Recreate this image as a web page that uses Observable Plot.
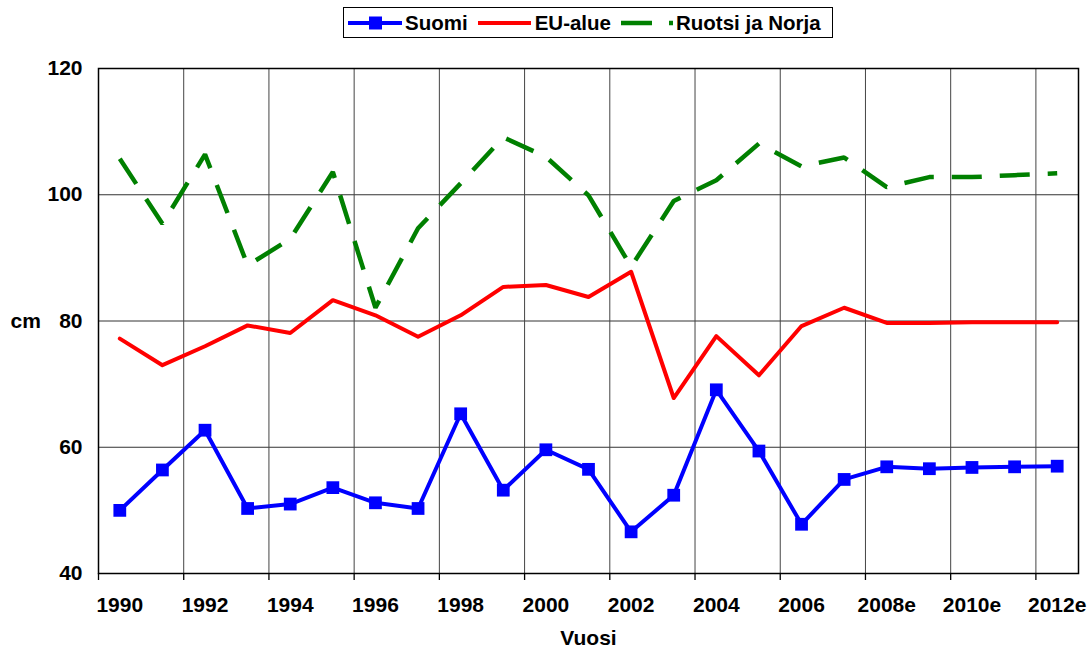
<!DOCTYPE html>
<html><head><meta charset="utf-8">
<script src="https://cdn.jsdelivr.net/npm/d3@7"></script>
<script src="https://cdn.jsdelivr.net/npm/@observablehq/plot@0.6"></script>
<style>
body{margin:0;background:#fff;font-family:"Liberation Sans",Arial,sans-serif;}
#legend{position:relative;height:45px;width:1090px;}
#legend .box{position:absolute;left:343px;top:7px;width:488px;height:29px;border:1px solid #000;display:flex;align-items:center;font-weight:bold;font-size:20.5px;color:#000;box-sizing:content-box;}
#legend .item{display:flex;align-items:center;}
#legend svg{display:block;}
</style>
</head><body>
<div id="legend"></div>
<div id="chart"></div>
<script>
const years = ["1990","1991","1992","1993","1994","1995","1996","1997","1998","1999","2000","2001","2002","2003","2004","2005","2006","2007","2008e","2009e","2010e","2011e","2012e"];
const suomi = [50.0, 56.4, 62.7, 50.3, 51.0, 53.6, 51.2, 50.3, 65.3, 53.2, 59.6, 56.5, 46.6, 52.4, 69.1, 59.4, 47.8, 54.9, 56.9, 56.6, 56.8, 56.9, 57.0];
const euAlue = [77.2, 73.0, 76.0, 79.3, 78.1, 83.3, 80.9, 77.5, 80.9, 85.4, 85.7, 83.8, 87.8, 67.8, 77.6, 71.4, 79.2, 82.1, 79.7, 79.7, 79.8, 79.8, 79.8];
const ruotsiNorja = [105.7, 95.4, 106.4, 88.8, 93.0, 103.6, 82.1, 94.7, 101.8, 109.1, 106.0, 99.9, 88.6, 99.0, 102.3, 108.1, 104.5, 105.9, 101.2, 102.8, 102.8, 103.1, 103.4];
const yTicks = [40, 60, 80, 100, 120];
const seriesNames = ["Suomi", "EU-alue", "Ruotsi ja Norja"];
const colors = ["#0000ff", "#ff0000", "#008000"];

const labelYears = years.filter((d, i) => i % 2 === 0);
const rows = vals => years.map((year, i) => ({year, value: vals[i]}));

const W = 1090, H = 606, mL = 98, mR = 12, mT = 23, mB = 78;
const bw = (W - mL - mR) / years.length;
const FS = 21;

// Legend
const box = document.createElement("div");
box.className = "box";
box.innerHTML = `
<div class="item" style="margin-left:4px">
  <svg width="54" height="20"><line x1="0" y1="10" x2="54" y2="10" stroke="${colors[0]}" stroke-width="4"/><rect x="21" y="3.5" width="13" height="13" fill="${colors[0]}"/></svg>
  <span style="margin-left:3px">${seriesNames[0]}</span></div>
<div class="item" style="margin-left:10px">
  <svg width="53" height="20"><line x1="0" y1="10" x2="53" y2="10" stroke="${colors[1]}" stroke-width="4"/></svg>
  <span style="margin-left:4px">${seriesNames[1]}</span></div>
<div class="item" style="margin-left:10px">
  <svg width="52" height="20"><line x1="0" y1="10" x2="52" y2="10" stroke="${colors[2]}" stroke-width="4.5" stroke-dasharray="31,17"/></svg>
  <span style="margin-left:3px">${seriesNames[2]}</span></div>`;
document.getElementById("legend").appendChild(box);

const chart = Plot.plot({
  width: W, height: H,
  marginLeft: mL, marginRight: mR, marginTop: mT, marginBottom: mB,
  style: {fontFamily: "Liberation Sans, Arial, sans-serif", fontSize: FS + "px", fontWeight: "bold", color: "#000", background: "#fff"},
  x: {type: "band", domain: years, padding: 0, round: false, axis: null},
  y: {domain: [40, 120], axis: null},
  marks: [
    Plot.ruleY([60, 80, 100], {stroke: "#333", strokeWidth: 1}),
    Plot.ruleX(labelYears.slice(1), {dx: -bw / 2, stroke: "#444", strokeWidth: 1}),
    Plot.ruleX(labelYears, {dx: -bw / 2, y1: 40, y2: 40, insetBottom: -7, stroke: "#000", strokeWidth: 1.3}),
    Plot.ruleY(yTicks, {x1: years[0], x2: years[0], dx: -bw / 2, insetLeft: -7, stroke: "#000", strokeWidth: 1.3}),
    Plot.frame({stroke: "#000", strokeWidth: 1.5}),
    Plot.axisY(yTicks, {tickSize: 0, tickPadding: 16, label: null, fontWeight: "bold", fontSize: FS}),
    Plot.axisX(labelYears, {tickSize: 0, tickPadding: 24, label: null, fontWeight: "bold", fontSize: FS}),
    Plot.text([{t: "cm", v: 80}], {text: "t", y: "v", frameAnchor: "left", textAnchor: "start", dx: -88, fontWeight: "bold", fontSize: FS}),
    Plot.text(["Vuosi"], {frameAnchor: "bottom", dy: 71, fontWeight: "bold", fontSize: FS}),
    Plot.line(rows(ruotsiNorja), {x: "year", y: "value", stroke: colors[2], strokeWidth: 4.5, strokeDasharray: "30,18", strokeLinecap: "butt", strokeLinejoin: "miter"}),
    Plot.line(rows(euAlue), {x: "year", y: "value", stroke: colors[1], strokeWidth: 4}),
    Plot.line(rows(suomi), {x: "year", y: "value", stroke: colors[0], strokeWidth: 4}),
    Plot.dot(rows(suomi), {x: "year", y: "value", symbol: "square", r: 7.2, fill: colors[0], stroke: "none"})
  ]
});
document.getElementById("chart").appendChild(chart);
</script>
</body></html>
